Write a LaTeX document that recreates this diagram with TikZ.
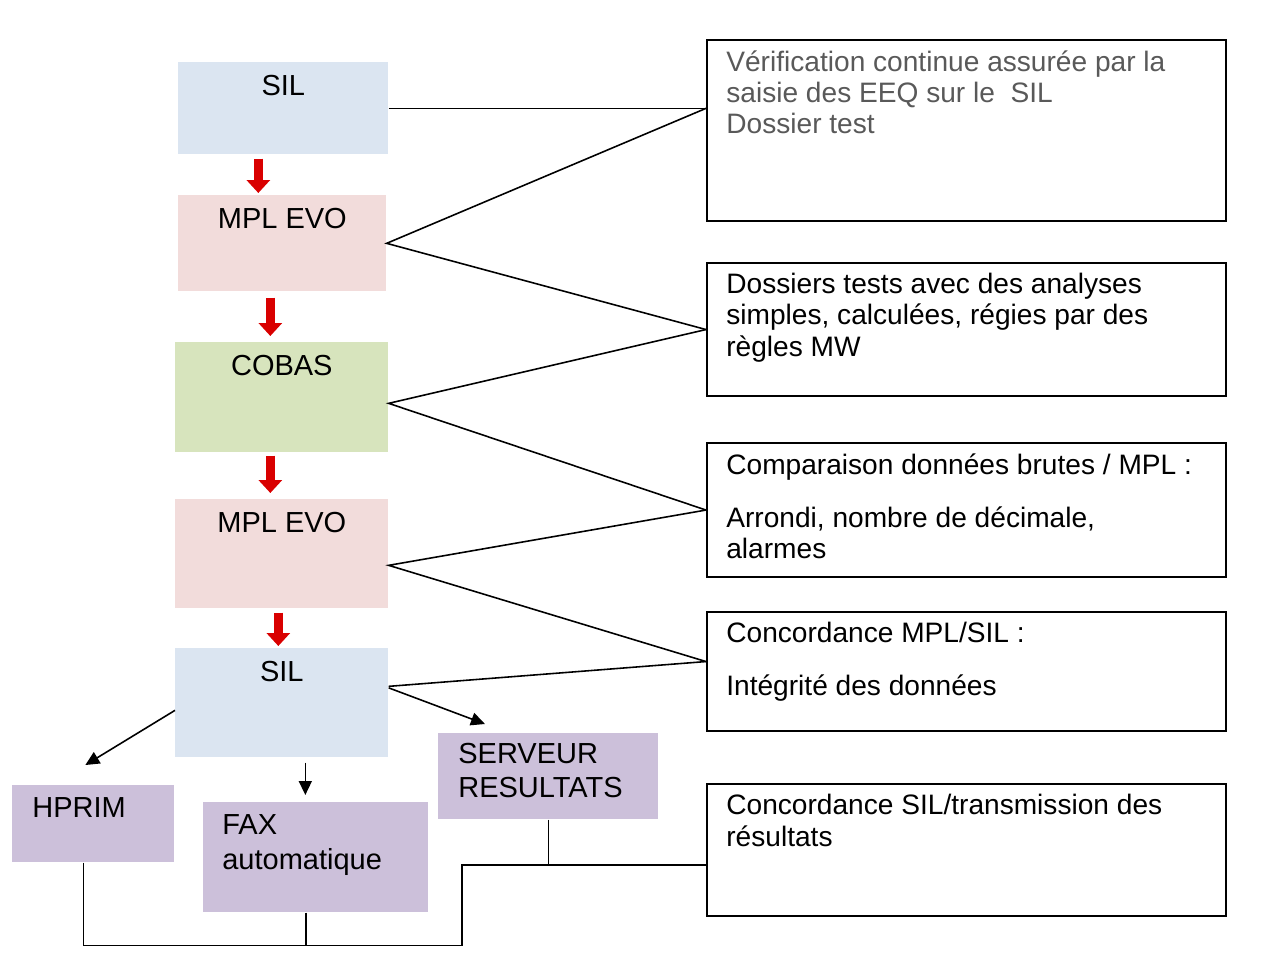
\documentclass[tikz,border=0pt]{standalone}
\usepackage{fontspec}
\setmainfont{Liberation Sans}
\usetikzlibrary{positioning,arrows.meta,calc}

\definecolor{silblue}{RGB}{219,229,241}
\definecolor{mplpink}{RGB}{242,220,219}
\definecolor{cobasgreen}{RGB}{215,228,189}
\definecolor{outlilac}{RGB}{204,192,218}
\definecolor{notegray}{RGB}{89,89,89}

\tikzset{
  stage/.style={rectangle, anchor=north west, inner sep=0pt},
  head/.style={anchor=north, inner xsep=0pt, inner ysep=0.25cm, font=\fontsize{16.5}{19}\selectfont},
  headl/.style={anchor=north west, align=left, inner xsep=0.4cm, inner ysep=0.25cm, font=\fontsize{16.5}{19.5}\selectfont},
  note/.style={rectangle, draw, line width=1.2pt, anchor=north west, minimum width=10.38cm, inner sep=0pt},
  notetext/.style={anchor=north west, align=left, inner xsep=0.4cm, inner ysep=0.22cm, font=\fontsize{16}{17.8}\selectfont},
  link/.style={line width=0.9pt},
  flow/.style={draw=red!85!black, line width=0.17cm, -{Triangle[length=0.26cm,width=0.46cm]}},
  feed/.style={line width=0.9pt, -{Triangle[length=0.28cm,width=0.26cm]}},
}

\begin{document}
\begin{tikzpicture}[x=0.02cm,y=-0.02cm]
  \useasboundingbox (0,0) rectangle (1275,978);

  % chain of systems
  \node[stage, fill=silblue, minimum width=4.2cm, minimum height=1.84cm,
        label={[head]north:SIL}] (sil1) at (178,62) {};
  \node[stage, fill=mplpink, minimum width=4.16cm, minimum height=1.92cm,
        label={[head]north:MPL EVO}] (mpl1) at (178,195) {};
  \node[stage, fill=cobasgreen, minimum width=4.26cm, minimum height=2.2cm,
        label={[head]north:COBAS}] (cobas) at (175,342) {};
  \node[stage, fill=mplpink, minimum width=4.26cm, minimum height=2.18cm,
        label={[head]north:MPL EVO}] (mpl2) at (175,499) {};
  \node[stage, fill=silblue, minimum width=4.26cm, minimum height=2.18cm,
        label={[head]north:SIL}] (sil2) at (175,648) {};

  % outputs
  \node[stage, fill=outlilac, minimum width=3.24cm, minimum height=1.54cm,
        label={[headl]north west:HPRIM}] (hprim) at (12,785) {};
  \node[stage, fill=outlilac, minimum width=4.5cm, minimum height=2.2cm,
        label={[headl, inner xsep=0.38cm]north west:FAX\\automatique}] (fax) at (203,802) {};
  \node[stage, fill=outlilac, minimum width=4.4cm, minimum height=1.72cm,
        label={[headl, inner ysep=0.2cm]north west:SERVEUR\\RESULTATS}] (serveur) at (438,733) {};

  % checks
  \node[note, minimum height=3.62cm,
        label={[notetext, text=notegray]north west:V\'erification continue assur\'ee par la\\saisie des EEQ sur le\ \ SIL\\Dossier test}] (note1) at (706,39) {};
  \node[note, minimum height=2.66cm,
        label={[notetext]north west:Dossiers tests avec des analyses\\simples, calcul\'ees, r\'egies par des\\r\`egles MW}] (note2) at (706,262) {};
  \node[note, minimum height=2.68cm,
        label={[notetext]north west:Comparaison donn\'ees brutes / MPL :\\[0.44cm]Arrondi, nombre de d\'ecimale,\\alarmes}] (note3) at (706,442) {};
  \node[note, minimum height=2.38cm,
        label={[notetext]north west:Concordance MPL/SIL :\\[0.44cm]Int\'egrit\'e des donn\'ees}] (note4) at (706,611) {};
  \node[note, minimum height=2.64cm,
        label={[notetext]north west:Concordance SIL/transmission des\\r\'esultats}] (note5) at (706,783) {};

  % red flow arrows
  \draw[flow] ([xshift=-0.5cm,yshift=-0.08cm]sil1.south) -- ([xshift=-0.5cm,yshift=0.04cm]sil1.south |- mpl1.north);
  \draw[flow] ([xshift=-0.24cm,yshift=-0.12cm]mpl1.south) -- ([xshift=-0.24cm,yshift=0.12cm]mpl1.south |- cobas.north);
  \draw[flow] ([xshift=-0.23cm,yshift=-0.06cm]cobas.south) -- ([xshift=-0.23cm,yshift=0.12cm]cobas.south |- mpl2.north);
  \draw[flow] ([xshift=-0.07cm,yshift=-0.08cm]mpl2.south) -- ([xshift=-0.07cm,yshift=0.04cm]mpl2.south |- sil2.north);

  % links to checks
  \draw[link] (sil1.east) -- (sil1.east -| note1.west);
  \draw[link] (note1.west |- sil1.east) -- (mpl1.east) -- (note2.west);
  \draw[link] (note2.west) -- ([yshift=-0.12cm]cobas.east) -- (note3.west);
  \draw[link] (note3.west) -- ([yshift=-0.23cm]mpl2.east) -- ([yshift=0.2cm]note4.west);
  \draw[link] ([yshift=0.2cm]note4.west) -- ([yshift=0.33cm]sil2.east);

  % transmission
  \coordinate (faxin) at ([xshift=-0.21cm,yshift=0.14cm]fax.north);
  \draw[feed] ([yshift=0.3cm]sil2.east) -- ([xshift=0.94cm,yshift=0.18cm]serveur.north west);
  \draw[feed] ([yshift=-0.15cm]sil2.west) -- ([xshift=-0.16cm,yshift=0.4cm]hprim.north);
  \draw[feed] (sil2.south -| faxin) ++(0,5) -- (faxin);

  % bus to last check
  \coordinate (bend) at (462,865);
  \draw[link] ([xshift=-0.2cm]hprim.south) |- ([yshift=-0.66cm]fax.south) -| (bend) -- (bend -| note5.west);
  \draw[link] ([xshift=-0.2cm]fax.south) -- ++(0,33);
  \draw[link] (serveur.south) -- (serveur.south |- bend);
\end{tikzpicture}
\end{document}
